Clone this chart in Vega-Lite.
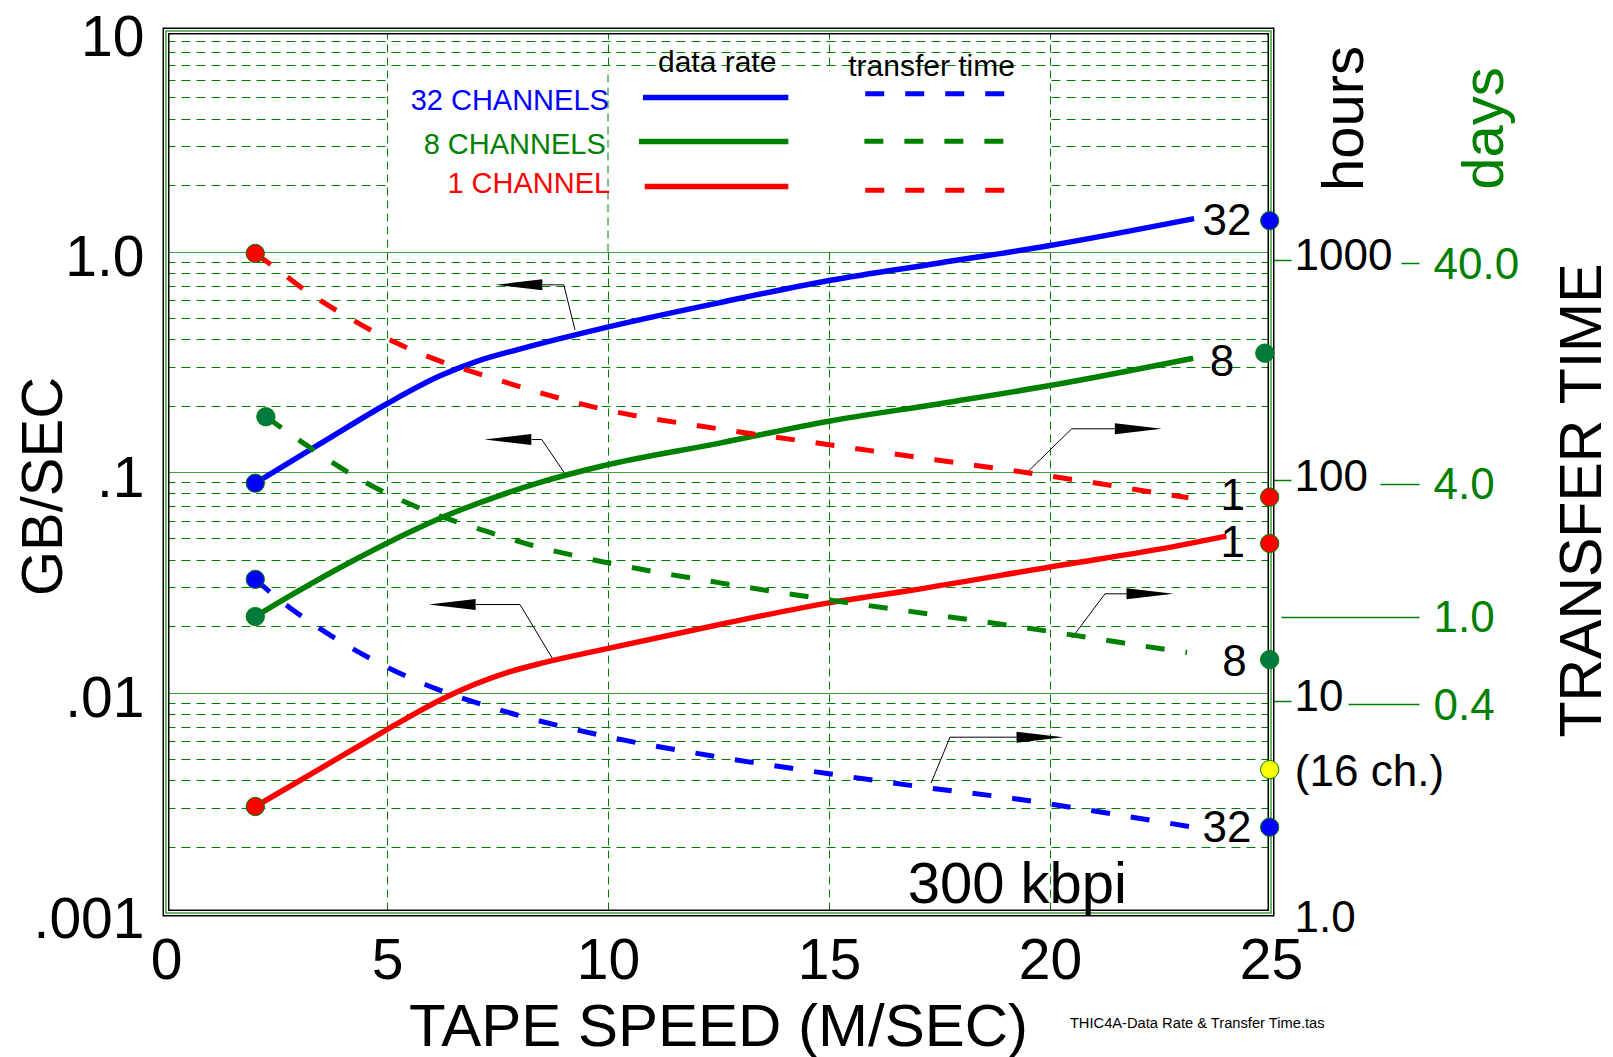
{
  "$schema": "https://vega.github.io/schema/vega-lite/v6.json",
  "width": 1105,
  "height": 882,
  "autosize": {"type": "none"},
  "padding": {"left": 166, "top": 31, "right": 342, "bottom": 144},
  "background": "white",
  "config": {
    "font": "Liberation Sans",
    "view": {"stroke": null},
    "axis": {"titleFontWeight": "normal", "labelColor": "black", "titleColor": "black", "labelFont": "Liberation Sans", "titleFont": "Liberation Sans"}
  },
  "datasets": {
    "rate": [
      {"series": "32 ch", "speed": 2.02, "gbps": 0.089},
      {"series": "32 ch", "speed": 3.48, "gbps": 0.134},
      {"series": "32 ch", "speed": 5, "gbps": 0.204},
      {"series": "32 ch", "speed": 6.2, "gbps": 0.273},
      {"series": "32 ch", "speed": 7, "gbps": 0.316},
      {"series": "32 ch", "speed": 8, "gbps": 0.361},
      {"series": "32 ch", "speed": 9.82, "gbps": 0.446},
      {"series": "32 ch", "speed": 12.5, "gbps": 0.585},
      {"series": "32 ch", "speed": 15, "gbps": 0.739},
      {"series": "32 ch", "speed": 17.5, "gbps": 0.887},
      {"series": "32 ch", "speed": 20, "gbps": 1.065},
      {"series": "32 ch", "speed": 23.26, "gbps": 1.41},
      {"series": "8 ch", "speed": 2.02, "gbps": 0.0221},
      {"series": "8 ch", "speed": 2.88, "gbps": 0.028},
      {"series": "8 ch", "speed": 4.24, "gbps": 0.0397},
      {"series": "8 ch", "speed": 5.75, "gbps": 0.0562},
      {"series": "8 ch", "speed": 6.5, "gbps": 0.0653},
      {"series": "8 ch", "speed": 7.5, "gbps": 0.0776},
      {"series": "8 ch", "speed": 8.5, "gbps": 0.0902},
      {"series": "8 ch", "speed": 9.82, "gbps": 0.1059},
      {"series": "8 ch", "speed": 12.5, "gbps": 0.1349},
      {"series": "8 ch", "speed": 15, "gbps": 0.17},
      {"series": "8 ch", "speed": 17.5, "gbps": 0.204},
      {"series": "8 ch", "speed": 20, "gbps": 0.2466},
      {"series": "8 ch", "speed": 23.24, "gbps": 0.328},
      {"series": "1 ch", "speed": 2.02, "gbps": 0.00304},
      {"series": "1 ch", "speed": 3.5, "gbps": 0.00453},
      {"series": "1 ch", "speed": 5, "gbps": 0.00679},
      {"series": "1 ch", "speed": 5.5, "gbps": 0.00776},
      {"series": "1 ch", "speed": 6.25, "gbps": 0.00935},
      {"series": "1 ch", "speed": 7, "gbps": 0.01093},
      {"series": "1 ch", "speed": 7.75, "gbps": 0.01237},
      {"series": "1 ch", "speed": 8.5, "gbps": 0.01358},
      {"series": "1 ch", "speed": 9.82, "gbps": 0.01556},
      {"series": "1 ch", "speed": 12.5, "gbps": 0.0203},
      {"series": "1 ch", "speed": 15, "gbps": 0.0255},
      {"series": "1 ch", "speed": 16.83, "gbps": 0.029},
      {"series": "1 ch", "speed": 20, "gbps": 0.0371},
      {"series": "1 ch", "speed": 22.94, "gbps": 0.0465},
      {"series": "1 ch", "speed": 23.99, "gbps": 0.0512}
    ],
    "transfer": [
      {"series": "1 ch", "speed": 2.02, "hours": 980},
      {"series": "1 ch", "speed": 2.52, "hours": 829},
      {"series": "1 ch", "speed": 3.26, "hours": 643},
      {"series": "1 ch", "speed": 4.05, "hours": 513},
      {"series": "1 ch", "speed": 4.86, "hours": 416},
      {"series": "1 ch", "speed": 5.69, "hours": 349},
      {"series": "1 ch", "speed": 7.5, "hours": 262},
      {"series": "1 ch", "speed": 9.82, "hours": 194},
      {"series": "1 ch", "speed": 12.5, "hours": 157},
      {"series": "1 ch", "speed": 15, "hours": 133},
      {"series": "1 ch", "speed": 17.4, "hours": 113.6},
      {"series": "1 ch", "speed": 19.2, "hours": 101.2},
      {"series": "1 ch", "speed": 21, "hours": 89.3},
      {"series": "1 ch", "speed": 22.8, "hours": 78.2},
      {"series": "1 ch", "speed": 23.13, "hours": 76.5},
      {"series": "8 ch", "speed": 2.26, "hours": 178},
      {"series": "8 ch", "speed": 3.26, "hours": 129},
      {"series": "8 ch", "speed": 4.05, "hours": 101.6},
      {"series": "8 ch", "speed": 4.86, "hours": 82.4},
      {"series": "8 ch", "speed": 5.69, "hours": 69.2},
      {"series": "8 ch", "speed": 7.47, "hours": 52.1},
      {"series": "8 ch", "speed": 8.3, "hours": 46.4},
      {"series": "8 ch", "speed": 9.23, "hours": 41.8},
      {"series": "8 ch", "speed": 12.5, "hours": 31.5},
      {"series": "8 ch", "speed": 15, "hours": 26.3},
      {"series": "8 ch", "speed": 17.4, "hours": 22.5},
      {"series": "8 ch", "speed": 19.2, "hours": 20},
      {"series": "8 ch", "speed": 21, "hours": 17.6},
      {"series": "8 ch", "speed": 22.8, "hours": 15.5},
      {"series": "8 ch", "speed": 23.1, "hours": 15.2},
      {"series": "32 ch", "speed": 2.02, "hours": 32.6},
      {"series": "32 ch", "speed": 2.5, "hours": 27},
      {"series": "32 ch", "speed": 3.27, "hours": 20.8},
      {"series": "32 ch", "speed": 4.04, "hours": 16.6},
      {"series": "32 ch", "speed": 4.85, "hours": 13.5},
      {"series": "32 ch", "speed": 5.69, "hours": 11.25},
      {"series": "32 ch", "speed": 7.5, "hours": 8.4},
      {"series": "32 ch", "speed": 10, "hours": 6.3},
      {"series": "32 ch", "speed": 12.5, "hours": 5.1},
      {"series": "32 ch", "speed": 15, "hours": 4.28},
      {"series": "32 ch", "speed": 17.4, "hours": 3.66},
      {"series": "32 ch", "speed": 19.2, "hours": 3.3},
      {"series": "32 ch", "speed": 21, "hours": 2.9},
      {"series": "32 ch", "speed": 23.24, "hours": 2.45}
    ],
    "rateMarks": [
      {"series": "32 ch", "speed": 2.02, "gbps": 0.089},
      {"series": "8 ch", "speed": 2.02, "gbps": 0.0221},
      {"series": "1 ch", "speed": 2.02, "gbps": 0.00304},
      {"series": "32 ch", "speed": 24.97, "gbps": 1.38},
      {"series": "8 ch", "speed": 24.86, "gbps": 0.346},
      {"series": "1 ch", "speed": 24.97, "gbps": 0.0474}
    ],
    "transferMarks": [
      {"series": "1 ch", "speed": 2.02, "hours": 980},
      {"series": "8 ch", "speed": 2.26, "hours": 178},
      {"series": "32 ch", "speed": 2.02, "hours": 32.6},
      {"series": "1 ch", "speed": 24.97, "hours": 76.9},
      {"series": "8 ch", "speed": 24.97, "hours": 14.1},
      {"series": "16 ch", "speed": 24.97, "hours": 4.47},
      {"series": "32 ch", "speed": 24.97, "hours": 2.45}
    ],
    "rateLabels": [
      {"label": "32", "speed": 24.56, "gbps": 1.41},
      {"label": "8", "speed": 24.17, "gbps": 0.321},
      {"label": "1", "speed": 24.41, "gbps": 0.0489}
    ],
    "transferLabels": [
      {"label": "1", "speed": 24.41, "hours": 79.1},
      {"label": "8", "speed": 24.45, "hours": 14.0},
      {"label": "32", "speed": 24.56, "hours": 2.47}
    ],
    "sixteen": [
      {"label": "(16 ch.)", "speed": 25.54, "hours": 4.47}
    ],
    "legendText": [
      {"series": "32 ch", "label": "32 CHANNELS", "speed": 10.02, "gbps": 4.39},
      {"series": "8 ch", "label": "8 CHANNELS", "speed": 9.95, "gbps": 2.773},
      {"series": "1 ch", "label": "1 CHANNEL", "speed": 10.05, "gbps": 1.846}
    ],
    "legendHead": [
      {"label": "data rate", "speed": 12.47, "gbps": 6.5},
      {"label": "transfer time", "speed": 17.32, "gbps": 6.28}
    ],
    "legendSolid": [
      {"series": "32 ch", "speed": 10.79, "gbps": 4.99},
      {"series": "32 ch", "speed": 14.08, "gbps": 4.99},
      {"series": "8 ch", "speed": 10.7, "gbps": 3.155},
      {"series": "8 ch", "speed": 14.08, "gbps": 3.155},
      {"series": "1 ch", "speed": 10.83, "gbps": 1.97},
      {"series": "1 ch", "speed": 14.08, "gbps": 1.97}
    ],
    "legendDashed": [
      {"series": "32 ch", "speed": 15.82, "gbps": 5.19},
      {"series": "32 ch", "speed": 19.32, "gbps": 5.19},
      {"series": "8 ch", "speed": 15.8, "gbps": 3.16},
      {"series": "8 ch", "speed": 19.29, "gbps": 3.16},
      {"series": "1 ch", "speed": 15.82, "gbps": 1.897},
      {"series": "1 ch", "speed": 19.32, "gbps": 1.897}
    ],
    "arrowHeads": [
      {"dir": "left", "speed": 7.984, "gbps": 0.706},
      {"dir": "left", "speed": 7.734, "gbps": 0.1404},
      {"dir": "left", "speed": 6.474, "gbps": 0.02506},
      {"dir": "right", "speed": 21.999, "gbps": 0.157},
      {"dir": "right", "speed": 22.262, "gbps": 0.02803},
      {"dir": "right", "speed": 19.774, "gbps": 0.00627}
    ],
    "arrowLeaders": [
      {"arrow": 1, "ord": 1, "speed": 8.52, "gbps": 0.706},
      {"arrow": 1, "ord": 2, "speed": 9.0, "gbps": 0.706},
      {"arrow": 1, "ord": 3, "speed": 9.253, "gbps": 0.4415},
      {"arrow": 2, "ord": 1, "speed": 8.274, "gbps": 0.1404},
      {"arrow": 2, "ord": 2, "speed": 8.5, "gbps": 0.1404},
      {"arrow": 2, "ord": 3, "speed": 9.005, "gbps": 0.0998},
      {"arrow": 3, "ord": 1, "speed": 7.014, "gbps": 0.02506},
      {"arrow": 3, "ord": 2, "speed": 8.009, "gbps": 0.02506},
      {"arrow": 3, "ord": 3, "speed": 8.762, "gbps": 0.01407},
      {"arrow": 4, "ord": 1, "speed": 19.486, "gbps": 0.0998},
      {"arrow": 4, "ord": 2, "speed": 20.491, "gbps": 0.157},
      {"arrow": 4, "ord": 3, "speed": 21.471, "gbps": 0.157},
      {"arrow": 5, "ord": 1, "speed": 20.491, "gbps": 0.01763},
      {"arrow": 5, "ord": 2, "speed": 21.244, "gbps": 0.02803},
      {"arrow": 5, "ord": 3, "speed": 21.735, "gbps": 0.02803},
      {"arrow": 6, "ord": 1, "speed": 17.308, "gbps": 0.003879},
      {"arrow": 6, "ord": 2, "speed": 17.738, "gbps": 0.00627},
      {"arrow": 6, "ord": 3, "speed": 19.247, "gbps": 0.00627}
    ],
    "box": [{"speed": 5.04, "speed2": 19.96, "gbps": 1.015, "gbps2": 6.6}],
    "boxRule": [{"speed": 10, "gbps": 1.0, "gbps2": 6.6}],
    "frame": [{"speed": 0, "speed2": 25, "gbps": 0.001, "gbps2": 10}],
    "bigNote": [{"label": "300 kbpi", "speed": 19.26, "gbps": 0.001374}],
    "footNote": [{"label": "THIC4A-Data Rate & Transfer Time.tas", "speed": 20.45, "gbps": 0.000315}],
    "daysAxis": [{"speed": 0, "days": 1}],
    "ttAxis": [{"speed": 0, "tt": 1}]
  },
  "encoding": {
    "x": {
      "field": "speed", "type": "quantitative",
      "scale": {"domain": [0, 25], "nice": false, "zero": false},
      "axis": {
        "values": [0, 5, 10, 15, 20, 25],
        "labelFontSize": 57, "labelPadding": 20, "labelFlush": false, "labelOverlap": false,
        "ticks": false, "tickSize": 0, "domain": false,
        "grid": true, "gridColor": "#008000", "gridWidth": 1, "gridDash": [8, 5],
        "gridOpacity": {"condition": {"test": "datum.value == 0 || datum.value == 25", "value": 0}, "value": 1},
        "title": "TAPE SPEED (M/SEC)", "titleFontSize": 60,
        "titleX": 552, "titleY": 132, "titleAlign": "center", "titleBaseline": "alphabetic"
      }
    }
  },
  "layer": [
    {
      "encoding": {
        "y": {
          "field": "gbps", "type": "quantitative",
          "scale": {"type": "log", "domain": [0.001, 10], "nice": false},
          "axis": {
            "orient": "left",
            "values": [0.001, 0.002, 0.003, 0.004, 0.005, 0.006, 0.007, 0.008, 0.009, 0.01, 0.02, 0.03, 0.04, 0.05, 0.06, 0.07, 0.08, 0.09, 0.1, 0.2, 0.3, 0.4, 0.5, 0.6, 0.7, 0.8, 0.9, 1, 2, 3, 4, 5, 6, 7, 8, 9, 10],
            "labelExpr": "datum.value == 10 ? '10' : datum.value == 1 ? '1.0' : datum.value == 0.1 ? '.1' : datum.value == 0.01 ? '.01' : datum.value == 0.001 ? '.001' : ''",
            "labelFontSize": 57, "labelPadding": 22, "labelOffset": 7, "labelOverlap": false, "labelBaseline": "middle",
            "ticks": false, "tickSize": 0, "domain": false,
            "grid": true, "gridColor": "#008000", "gridWidth": 1,
            "gridDash": {"condition": {"test": "datum.value == 0.01 || datum.value == 0.1 || datum.value == 1", "value": [1, 0]}, "value": [9, 6]},
            "gridOpacity": {"condition": {"test": "datum.value == 0.001 || datum.value == 10", "value": 0}, "value": 1},
            "title": "GB/SEC", "titleFontSize": 58, "titleAngle": -90,
            "titleX": -122, "titleY": 455, "titleAlign": "center", "titleBaseline": "middle"
          }
        }
      },
      "layer": [
        {"data": {"name": "box"}, "mark": {"type": "rect", "fill": "white", "stroke": null}, "encoding": {"x2": {"field": "speed2"}, "y2": {"field": "gbps2"}}},
        {"data": {"name": "boxRule"}, "mark": {"type": "rule", "color": "#008000", "strokeWidth": 1, "strokeDash": [8, 5]}, "encoding": {"y2": {"field": "gbps2"}}},
        {"data": {"name": "frame"}, "mark": {"type": "rect", "fill": "transparent", "stroke": "black", "strokeWidth": 7}, "encoding": {"x2": {"field": "speed2"}, "y2": {"field": "gbps2"}}},
        {"data": {"name": "frame"}, "mark": {"type": "rect", "fill": "transparent", "stroke": "white", "strokeWidth": 4}, "encoding": {"x2": {"field": "speed2"}, "y2": {"field": "gbps2"}}},
        {"data": {"name": "frame"}, "mark": {"type": "rect", "fill": "transparent", "stroke": "#3aa23a", "strokeWidth": 1.5}, "encoding": {"x2": {"field": "speed2"}, "y2": {"field": "gbps2"}}},
        {"data": {"name": "arrowLeaders"}, "mark": {"type": "line", "color": "black", "strokeWidth": 1}, "encoding": {"detail": {"field": "arrow"}, "order": {"field": "ord"}}},
        {"data": {"name": "arrowHeads"}, "mark": {"type": "point", "filled": true, "color": "black", "opacity": 1, "size": 2209},
          "encoding": {"shape": {"field": "dir", "type": "nominal", "scale": {"domain": ["left", "right"], "range": ["M -1 0 L 1 -0.234 L 1 0.234 Z", "M 1 0 L -1 -0.234 L -1 0.234 Z"]}, "legend": null}}},
        {"data": {"name": "rate"}, "mark": {"type": "line", "strokeWidth": 5.5, "interpolate": "monotone"},
          "encoding": {"color": {"field": "series", "type": "nominal", "scale": {"domain": ["32 ch", "8 ch", "1 ch", "16 ch"], "range": ["#0000ff", "#008000", "#ff0000", "#ffff00"]}, "legend": null}}},
        {"data": {"name": "legendSolid"}, "mark": {"type": "line", "strokeWidth": 5.5},
          "encoding": {"color": {"field": "series", "type": "nominal", "legend": null}}},
        {"data": {"name": "legendDashed"}, "mark": {"type": "line", "strokeWidth": 5, "strokeDash": [19, 21]},
          "encoding": {"color": {"field": "series", "type": "nominal", "legend": null}}},
        {"data": {"name": "legendText"}, "mark": {"type": "text", "align": "right", "baseline": "alphabetic", "fontSize": 29},
          "encoding": {"text": {"field": "label"}, "color": {"field": "series", "type": "nominal", "legend": null}}},
        {"data": {"name": "legendHead"}, "mark": {"type": "text", "align": "center", "baseline": "alphabetic", "fontSize": 30, "color": "black"},
          "encoding": {"text": {"field": "label"}}},
        {"data": {"name": "rateMarks"}, "mark": {"type": "circle", "size": 336, "opacity": 1, "stroke": "#008000", "strokeWidth": 1},
          "encoding": {"fill": {"field": "series", "type": "nominal", "scale": {"domain": ["32 ch", "8 ch", "1 ch", "16 ch"], "range": ["#0000ff", "#007a3d", "#ff0000", "#ffff00"]}, "legend": null}}},
        {"data": {"name": "rateLabels"}, "mark": {"type": "text", "align": "right", "baseline": "middle", "dy": 3, "fontSize": 44, "color": "black"},
          "encoding": {"text": {"field": "label"}}},
        {"data": {"name": "bigNote"}, "mark": {"type": "text", "align": "center", "baseline": "middle", "dy": 3, "fontSize": 58, "color": "black"},
          "encoding": {"text": {"field": "label"}}},
        {"data": {"name": "footNote"}, "mark": {"type": "text", "align": "left", "baseline": "middle", "fontSize": 14.7, "color": "black"},
          "encoding": {"text": {"field": "label"}}}
      ]
    },
    {
      "encoding": {
        "y": {
          "field": "hours", "type": "quantitative",
          "scale": {"type": "log", "domain": [1, 10000], "nice": false},
          "axis": {
            "orient": "right",
            "values": [1, 10, 100, 1000], "format": "d",
            "labelExpr": "datum.value == 1 ? '1.0' : datum.label",
            "labelFontSize": 44, "labelPadding": 3, "labelOffset": -3, "labelBaseline": "middle", "labelOverlap": false, "labelAlign": "left",
            "ticks": true, "tickSize": 20, "tickColor": "#008000", "tickWidth": 1.5, "tickOffset": 8,
            "tickOpacity": {"condition": {"test": "datum.value == 1", "value": 0}, "value": 1},
            "domain": false, "grid": false,
            "title": "hours", "titleFontSize": 58, "titleAngle": -90,
            "titleX": 74, "titleY": 87, "titleAlign": "center", "titleBaseline": "middle"
          }
        }
      },
      "layer": [
        {"data": {"name": "transfer"}, "mark": {"type": "line", "strokeWidth": 5, "strokeDash": [19, 21], "interpolate": "monotone"},
          "encoding": {"color": {"field": "series", "type": "nominal", "legend": null}}},
        {"data": {"name": "transferMarks"}, "mark": {"type": "circle", "size": 336, "opacity": 1, "stroke": "#008000", "strokeWidth": 1},
          "encoding": {"fill": {"field": "series", "type": "nominal", "legend": null}}},
        {"data": {"name": "transferLabels"}, "mark": {"type": "text", "align": "right", "baseline": "middle", "dy": 3, "fontSize": 44, "color": "black"},
          "encoding": {"text": {"field": "label"}}},
        {"data": {"name": "sixteen"}, "mark": {"type": "text", "align": "left", "baseline": "middle", "dy": 3, "fontSize": 44, "color": "black"},
          "encoding": {"text": {"field": "label"}}}
      ]
    },
    {
      "data": {"name": "daysAxis"},
      "mark": {"type": "point", "opacity": 0},
      "encoding": {
        "y": {
          "field": "days", "type": "quantitative",
          "scale": {"type": "log", "domain": [0.0416667, 416.667], "nice": false},
          "axis": {
            "orient": "right", "offset": 148,
            "values": [0.4, 1, 4, 40], "format": ".1f",
            "labelFontSize": 44, "labelColor": "#008000", "labelOffset": 2, "labelBaseline": "middle", "labelOverlap": false, "labelAlign": "left",
            "labelPadding": {"condition": [{"test": "datum.value == 1", "value": 152}, {"test": "datum.value == 4", "value": 53}, {"test": "datum.value < 1", "value": 85}], "value": 32},
            "ticks": true, "tickColor": "#008000", "tickWidth": 1.5, "tickOffset": 8,
            "tickSize": {"condition": [{"test": "datum.value == 1", "value": -138}, {"test": "datum.value == 4", "value": -39}, {"test": "datum.value < 1", "value": -71}], "value": -18},
            "domain": false, "grid": false,
            "title": "days", "titleColor": "#008000", "titleFontSize": 58, "titleAngle": -90,
            "titleX": 66, "titleY": 97, "titleAlign": "center", "titleBaseline": "middle"
          }
        }
      }
    },
    {
      "data": {"name": "ttAxis"},
      "mark": {"type": "point", "opacity": 0},
      "encoding": {
        "y": {
          "field": "tt", "type": "quantitative",
          "axis": {
            "orient": "right", "offset": 0,
            "labels": false, "ticks": false, "domain": false, "grid": false,
            "title": "TRANSFER TIME", "titleFontSize": 59, "titleAngle": -90,
            "titleX": 311, "titleY": 469, "titleAlign": "center", "titleBaseline": "middle"
          }
        }
      }
    }
  ],
  "resolve": {"scale": {"y": "independent"}}
}
